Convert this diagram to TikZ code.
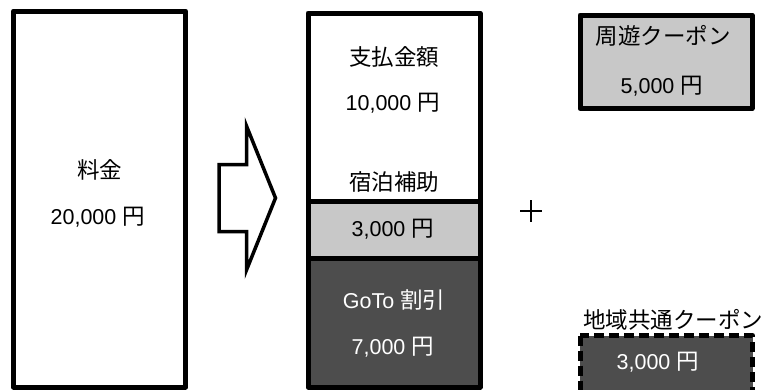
\documentclass[tikz,border=0pt]{standalone}
\usepackage{fontspec}
\setmainfont{Liberation Sans}
\newfontfamily\jpfam{Noto Sans CJK JP}
\newcommand{\jp}{\jpfam\fontsize{22.5}{26}\selectfont}
\definecolor{lightfill}{HTML}{C8C8C8}
\definecolor{darkfill}{HTML}{4D4D4D}
\newcommand{\yen}{\hspace{0.3em}{\jp 円}}
\begin{document}
\begin{tikzpicture}[x=1pt,y=-1pt,
  box/.style={line width=5pt,line join=round},
  lbl/.style={font=\fontsize{21.5}{25}\selectfont,inner sep=0pt,anchor=center},
  wlbl/.style={lbl,text=white}]
\useasboundingbox (0,0) rectangle (765,389);
\clip (0,0) rectangle (765,389);
% left box
\draw[box,fill=white] (13.5,11) rectangle (185.5,387);
\node[lbl] (ryokin) at (99.5,170) {\jp 料金};
\node[lbl] (ryokinval) at (98,217) {20,000\yen};
% arrow
\draw[line width=3.5pt,line join=miter,fill=white]
  (219,164.5) -- (246.5,164.5) -- (246.5,126) -- (275.5,198) -- (246.5,270)
  -- (246.5,231.5) -- (219,231.5) -- cycle;
% middle column
\draw[box,fill=darkfill] (308,258) rectangle (480,387);
\draw[box,fill=lightfill] (308,201) rectangle (480,258);
\draw[box,fill=white] (308,13) rectangle (480,201);
\node[lbl] (shiharai) at (394,57) {\jp 支払金額};
\node[lbl] (shiharaival) at (393,103) {10,000\yen};
\node[lbl] (hojo) at (394,182) {\jp 宿泊補助};
\node[lbl] (hojoval) at (393,229) {3,000\yen};
\node[wlbl] (goto) at (394,300) {GoTo {\jp 割引}};
\node[wlbl] (gotoval) at (393,347) {7,000\yen};
% plus sign
\draw[line width=2pt] (520,211) -- (542,211) (531,200) -- (531,222);
% top right coupon
\draw[box,fill=lightfill] (580,15) rectangle (752,108.5);
\node[lbl] (shuyu) at (663,36) {\jp 周遊クーポン};
\node[lbl] (shuyuval) at (662,86) {5,000\yen};
% bottom right coupon
\node[lbl] (chiiki) at (673,320) {\jp 地域共通クーポン};
\draw[box,fill=darkfill,dash pattern=on 10pt off 5pt] (580,335.5) rectangle (752.5,400);
\node[wlbl] (chiikival) at (658,362) {3,000\yen};
\end{tikzpicture}
\end{document}
